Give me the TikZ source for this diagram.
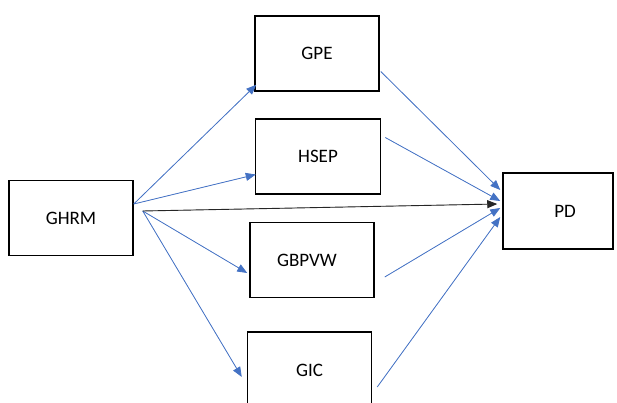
\documentclass[tikz,border=0pt]{standalone}
\usepackage{fontspec}
\setmainfont{Carlito}
\usepackage{tikz}
\usetikzlibrary{arrows.meta, positioning}
\definecolor{wordblue}{HTML}{4472C4}

\begin{document}
\begin{tikzpicture}[x=1pt,y=-1pt,>={Triangle[length=10pt,width=8pt]},
	box/.style={draw,line width=1.5pt,minimum width=124pt,minimum height=75pt,inner sep=0pt,font=\fontsize{19}{23}\selectfont}]
	\useasboundingbox (0,0) rectangle (617,403);

	\node[box] (GHRM) at (71,218) {GHRM};
	\node[box] (GPE) at (317,53.5) {GPE};
	\node[box,minimum width=125pt] (HSEP) at (318,156.5) {HSEP};
	\node[box] (GBPVW) at (312,260) {\hspace*{-10pt}GBPVW};
	\node[box,minimum height=76pt] (GIC) at (309.5,370) {GIC};
	\node[box,minimum width=110pt,minimum height=76pt] (PD) at (558,211) {\hspace*{14pt}PD};

	% free ends of the connectors
	\coordinate (A1) at ([yshift=14pt]GHRM.east);
	\coordinate (A2) at ([xshift=9pt,yshift=7pt]GHRM.east);
	\coordinate (GPEin) at ([xshift=2pt,yshift=7pt]GPE.south west);
	\coordinate (HSEPin) at ([xshift=1pt,yshift=-18pt]HSEP.west);
	\coordinate (GBPVWin) at ([xshift=-2pt,yshift=-13pt]GBPVW.west);
	\coordinate (GICin) at ([xshift=-5pt,yshift=-7pt]GIC.west);
	\coordinate (GPEout) at ([xshift=1pt,yshift=-18pt]GPE.east);
	\coordinate (HSEPout) at ([xshift=4pt,yshift=19pt]HSEP.east);
	\coordinate (GBPVWout) at ([xshift=10pt,yshift=-17pt]GBPVW.east);
	\coordinate (GICout) at ([xshift=5pt,yshift=-17pt]GIC.east);
	\coordinate (PD1) at ([xshift=-2pt,yshift=21pt]PD.west);
	\coordinate (PD2) at ([xshift=-2pt,yshift=10pt]PD.west);
	\coordinate (PD3) at ([xshift=-2pt,yshift=3pt]PD.west);
	\coordinate (PD4) at ([xshift=-2pt,yshift=-6pt]PD.west);
	\coordinate (PD0) at ([xshift=-5pt,yshift=7pt]PD.west);

	\tikzset{blueline/.style={->,draw=wordblue,fill=wordblue,line width=0.8pt}}
	\tikzset{blackline/.style={->,draw=black!85,fill=black,line width=0.9pt}}

	\path (A1) edge [blueline] (GPEin);
	\path (A1) edge [blueline] (HSEPin);
	\path (A2) edge [blueline] (GBPVWin);
	\path (A2) edge [blueline] (GICin);

	\path (GPEout) edge [blueline] (PD1);
	\path (HSEPout) edge [blueline] (PD2);
	\path (GBPVWout) edge [blueline] (PD3);
	\path (GICout) edge [blueline] (PD4);

	\path (A2) edge [blackline] (PD0);
\end{tikzpicture}
\end{document}
